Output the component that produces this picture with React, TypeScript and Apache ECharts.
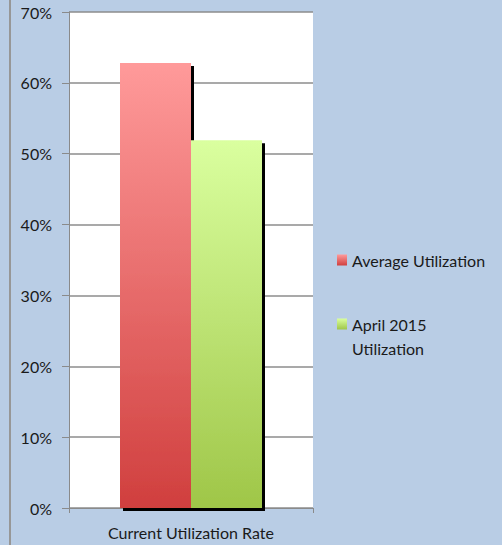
import React, { useEffect, useRef } from "react";
import * as echarts from "echarts";

const categories = ["Current Utilization Rate"];
const seriesNames = ["Average Utilization", "April 2015\nUtilization"];
const averageUtilization = [62.8];
const april2015Utilization = [51.9];
const yTicks = [0, 10, 20, 30, 40, 50, 60, 70];

const FONT = "Lato";

function grad(top: string, bottom: string) {
  return new echarts.graphic.LinearGradient(0, 0, 0, 1, [
    { offset: 0, color: top },
    { offset: 1, color: bottom },
  ]);
}

export default function App() {
  const ref = useRef<HTMLDivElement>(null);
  useEffect(() => {
    if (!ref.current) return;
    const chart = echarts.init(ref.current, null, { renderer: "svg" });
    const shadow = {
      shadowColor: "#000000",
      shadowBlur: 0,
      shadowOffsetX: 3,
      shadowOffsetY: 3,
    };
    const legendBase = {
      orient: "vertical",
      left: 337,
      padding: 0,
      itemWidth: 10,
      itemHeight: 11,
      itemGap: 5,
      icon: "rect",
      textStyle: { fontFamily: FONT, fontSize: 16, color: "#1a1a1a", lineHeight: 24 },
    };
    chart.setOption({
      animation: false,
      backgroundColor: "#B9CDE5",
      textStyle: { fontFamily: FONT },
      graphic: [
        {
          type: "line",
          shape: { x1: 10, y1: 0, x2: 10, y2: 545 },
          style: { stroke: "#979797", lineWidth: 2 },
        },
      ],
      grid: {
        left: 69,
        right: 189,
        top: 12,
        bottom: 37,
        show: true,
        backgroundColor: "#ffffff",
        borderWidth: 0,
      },
      legend: [
        { ...legendBase, top: 248, data: [seriesNames[0]] },
        {
          ...legendBase,
          top: 288,
          data: [seriesNames[1]],
          formatter: (name: string) => "\n" + name,
        },
      ],
      xAxis: {
        type: "category",
        data: categories,
        axisLine: { lineStyle: { color: "#8a8a8a", width: 1 } },
        axisTick: { show: true, length: 5, lineStyle: { color: "#8a8a8a" } },
        axisLabel: { fontFamily: FONT, fontSize: 16, color: "#1a1a1a", margin: 16 },
      },
      yAxis: {
        type: "value",
        min: yTicks[0],
        max: yTicks[yTicks.length - 1],
        interval: 10,
        axisLine: { show: true, lineStyle: { color: "#8a8a8a", width: 1 } },
        axisTick: { show: true, length: 7, lineStyle: { color: "#8a8a8a" } },
        splitLine: { lineStyle: { color: "#8c8c8c", width: 1.5 } },
        axisLabel: {
          fontFamily: FONT,
          fontSize: 16,
          color: "#1a1a1a",
          margin: 17,
          formatter: (v: number) => v + "%",
        },
      },
      series: [
        {
          name: seriesNames[0],
          type: "bar",
          data: averageUtilization,
          barWidth: 71,
          barGap: "0%",
          itemStyle: { color: grad("#FF9A9A", "#D03F3E"), ...shadow },
        },
        {
          name: seriesNames[1],
          type: "bar",
          data: april2015Utilization,
          barWidth: 71,
          barGap: "0%",
          itemStyle: { color: grad("#DAFF9F", "#9FC648"), ...shadow },
        },
      ],
    });
    return () => chart.dispose();
  }, []);
  return <div ref={ref} style={{ width: 502, height: 545, position: "absolute", left: 0, top: 0 }} />;
}
